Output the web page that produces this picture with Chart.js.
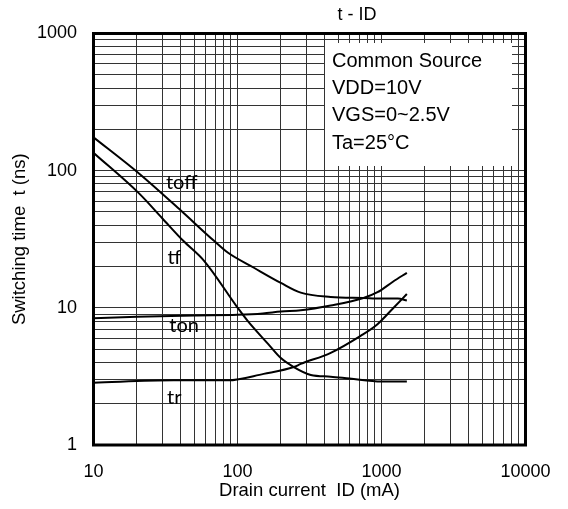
<!DOCTYPE html>
<html><head><meta charset="utf-8">
<script src="https://cdn.jsdelivr.net/npm/chart.js@4/dist/chart.umd.min.js"></script>
<style>html,body{margin:0;padding:0;background:#fff;}canvas{display:block;}</style>
</head><body>
<canvas id="c" width="568" height="509"></canvas>
<script>
const chartTitle = 't - ID';
const xTitle = 'Drain current  ID (mA)';
const yTitle = 'Switching time  t (ns)';
const xTickValues = [10, 100, 1000, 10000];
const xTickLabels = ['10', '100', '1000', '10000'];
const yTickValues = [1, 10, 100, 1000];
const yTickLabels = ['1', '10', '100', '1000'];
const conditionLines = ['Common Source', 'VDD=10V', 'VGS=0~2.5V', 'Ta=25°C'];

const seriesNames = ['toff', 'tf', 'ton', 'tr'];
const toffCurrent = [10, 20.8, 40.6, 68.7, 86, 130, 200, 275, 444, 750, 1000, 1300, 1500];
const toffTime    = [175, 95, 51, 30.8, 25.2, 19.6, 15.2, 12.9, 12.0, 11.8, 11.7, 11.7, 11.3];
const tfCurrent = [10, 20.8, 30, 42, 58.6, 100, 118, 163, 200, 246, 323, 444, 600, 1000, 1500];
const tfTime    = [135, 68, 45, 30.8, 22, 10.05, 8.0, 5.46, 4.3, 3.7, 3.24, 3.15, 3.05, 2.9, 2.9];
const tonCurrent = [10, 20, 50, 100, 150, 200, 275, 444, 750, 938, 1200, 1500];
const tonTime    = [8.4, 8.6, 8.8, 8.9, 9.1, 9.4, 9.6, 10.4, 11.8, 13, 15.5, 18];
const trCurrent = [10, 36, 86, 152, 246, 275, 444, 716, 938, 1200, 1500];
const trTime    = [2.84, 2.96, 2.96, 3.3, 3.7, 3.9, 4.7, 6.25, 7.6, 9.9, 12.6];

const FONT = '"Liberation Sans", Arial, sans-serif';

function pts(xs, ys) { return xs.map((x, i) => ({ x: x, y: ys[i] })); }
function gridValues(min, max) {
  const out = [];
  for (let d = min; d < max; d *= 10) for (let m = 1; m <= 9; m++) out.push(d * m);
  out.push(max);
  return out;
}

const seriesData = [
  pts(toffCurrent, toffTime),
  pts(tfCurrent, tfTime),
  pts(tonCurrent, tonTime),
  pts(trCurrent, trTime)
];

const labelAnchors = { toff: [41, 82], tf: [36.4, 23.2], ton: [42.6, 7.4], tr: [36.4, 2.2] };

const decor = {
  id: 'decor',
  beforeDraw(chart) {
    const ctx = chart.ctx;
    ctx.save(); ctx.fillStyle = '#fff'; ctx.fillRect(0, 0, chart.width, chart.height); ctx.restore();
  },
  beforeDatasetsDraw(chart) {
    const ctx = chart.ctx, ca = chart.chartArea;
    ctx.save();
    const bx = ca.left + 231.5, by = ca.top + 9.5, bw = (ca.right - 13.5) - bx, bh = 123;
    ctx.fillStyle = '#fff';
    ctx.fillRect(bx, by, bw, bh);
    ctx.fillStyle = '#000';
    ctx.font = '20px ' + FONT;
    ctx.textBaseline = 'middle';
    ctx.textAlign = 'left';
    conditionLines.forEach((t, i) => ctx.fillText(t, bx + 7, ca.top + 27.5 + i * 27.4));
    ctx.restore();
  },
  afterDatasetsDraw(chart) {
    const ctx = chart.ctx, ca = chart.chartArea;
    const xs = chart.scales.x, ys = chart.scales.y;
    ctx.save();
    ctx.strokeStyle = '#000';
    ctx.lineWidth = 3;
    ctx.strokeRect(ca.left, ca.top, ca.right - ca.left, ca.bottom - ca.top);
    ctx.fillStyle = '#000';
    ctx.font = '20px Lato, "Open Sans", sans-serif';
    ctx.textAlign = 'center';
    ctx.textBaseline = 'middle';
    seriesNames.forEach(n => {
      const a = labelAnchors[n];
      ctx.fillText(n, xs.getPixelForValue(a[0]), ys.getPixelForValue(a[1]));
    });
    ctx.font = '18px ' + FONT;
    ctx.fillText(chartTitle, ca.left + 263.5, 15);
    ctx.restore();
  }
};

new Chart(document.getElementById('c'), {
  type: 'line',
  data: {
    datasets: seriesData.map((d, i) => ({
      label: seriesNames[i],
      data: d,
      borderColor: '#000',
      borderWidth: 2,
      pointRadius: 0,
      fill: false,
      cubicInterpolationMode: 'monotone'
    }))
  },
  options: {
    responsive: false,
    animation: false,
    devicePixelRatio: 1,
    layout: { padding: { left: 0, top: 33.5, right: 42.5, bottom: 0 } },
    plugins: { legend: { display: false }, tooltip: { enabled: false }, title: { display: false } },
    scales: {
      x: {
        type: 'logarithmic',
        min: 10, max: 10000,
        afterFit(s) { s.height = 64; },
        afterBuildTicks(s) { s.ticks = gridValues(10, 10000).map(v => ({ value: v })); },
        grid: { color: '#333', lineWidth: 1, drawTicks: false },
        border: { display: false },
        ticks: {
          autoSkip: false, maxRotation: 0, padding: 16, color: '#000',
          font: { family: FONT, size: 18 },
          callback(v) { const k = xTickValues.indexOf(v); return k >= 0 ? xTickLabels[k] : ''; }
        },
        title: { display: true, text: xTitle, color: '#000', font: { family: FONT, size: 18.5 }, padding: { top: 0, bottom: 7 } }
      },
      y: {
        type: 'logarithmic',
        min: 1, max: 1000,
        afterFit(s) { s.width = 93.5; },
        afterBuildTicks(s) { s.ticks = gridValues(1, 1000).map(v => ({ value: v })); },
        grid: { color: '#333', lineWidth: 1, drawTicks: false },
        border: { display: false },
        ticks: {
          autoSkip: false, padding: 16.5, color: '#000',
          font: { family: FONT, size: 18 },
          callback(v) { const k = yTickValues.indexOf(v); return k >= 0 ? yTickLabels[k] : ''; }
        },
        title: { display: true, text: yTitle, color: '#000', font: { family: FONT, size: 18.5 }, padding: { top: 9, bottom: 0 } }
      }
    }
  },
  plugins: [decor]
});
</script>
</body></html>
